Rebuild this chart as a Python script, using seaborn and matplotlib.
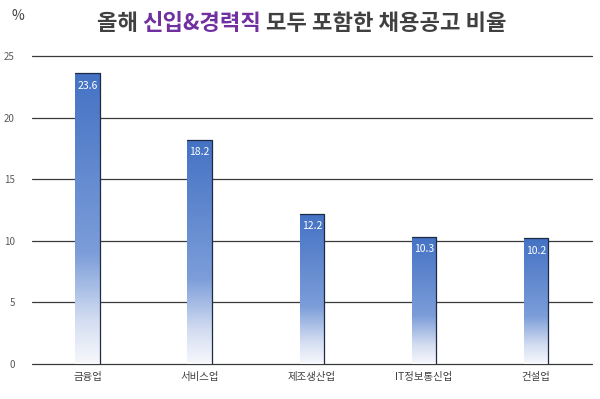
# Import libraries
import numpy as np
import pandas as pd
import matplotlib
matplotlib.use('Agg')
import matplotlib.pyplot as plt
from matplotlib.colors import LinearSegmentedColormap
import seaborn as sns

# Data
industries = ['금융업', '서비스업', '제조생산업', 'IT정보통신업', '건설업']
ratios = [23.6, 18.2, 12.2, 10.3, 10.2]
y_ticks = [0, 5, 10, 15, 20, 25]

df = pd.DataFrame({'Industry': industries, 'Ratio': ratios})

# Theme and fonts
sns.set_theme(style='white')
plt.rcParams['font.family'] = ['Noto Sans CJK KR', 'DejaVu Sans']

fig = plt.figure(figsize=(6, 3.99), dpi=100)
ax = fig.add_axes([0.0525, 0.0877, 0.9345, 0.772])

# Bars (colour is replaced by a gradient below)
sns.barplot(data=df, x='Industry', y='Ratio', color='#4472C4', width=0.22,
            linewidth=0, ax=ax, zorder=3)

# Gradient fill: white at the bottom to blue at the top
cmap = LinearSegmentedColormap.from_list(
    'fade', [(0, '#F7F8FC'), (0.15, '#D3DDF1'), (0.38, '#7C9DD9'), (1.0, '#4472C4')])
grad = np.linspace(0, 1, 256).reshape(-1, 1)
for bar, val in zip(ax.patches, ratios):
    x0, w = bar.get_x(), bar.get_width()
    bar.set_facecolor('none')
    bar.set_edgecolor('none')
    im = ax.imshow(grad, cmap=cmap, origin='lower', aspect='auto',
                   extent=(x0, x0 + w, 0, val), zorder=3)
    im.set_clip_path(bar)
    # dark top and right edge
    ax.plot([x0, x0 + w, x0 + w], [val, val, 0], color='#1F2A44', lw=0.9, zorder=4)
    ax.text(x0 + w / 2, val - 0.6, f'{val}', ha='center', va='top',
            color='white', fontsize=7.5, zorder=5)

# Axes settings
ax.set_xlim(-0.5, len(industries) - 0.5)
ax.set_ylim(0, 25)
ax.set_yticks(y_ticks)
ax.set_yticklabels([str(t) for t in y_ticks], fontsize=7, color='#595959')
ax.tick_params(axis='x', labelsize=7.5, colors='#404040', pad=6, length=0)
ax.tick_params(axis='y', length=0, pad=12)
ax.set_xlabel('')
ax.set_ylabel('')
ax.yaxis.grid(True, color='#3A3A3A', lw=0.9, zorder=0)
for gl in ax.get_ygridlines():
    gl.set_clip_on(False)
ax.set_axisbelow(True)
for s in ax.spines.values():
    s.set_visible(False)

# Percent sign
fig.text(0.02, 0.96, '%', fontsize=10, color='#404040', ha='left', va='center')

# Two-colour title
parts = [('올해 ', '#404040'), ('신입&경력직', '#7030A0'), (' 모두 포함한 채용공고 비율', '#404040')]
fig.canvas.draw()
renderer = fig.canvas.get_renderer()
texts = []
for s, c in parts:
    t = fig.text(0, 0.94, s, fontsize=16, fontweight='bold', color=c, ha='left', va='center')
    texts.append(t)
widths = [t.get_window_extent(renderer).width / fig.bbox.width for t in texts]
x = 0.503 - sum(widths) / 2
for t, w in zip(texts, widths):
    t.set_x(x)
    x += w

plt.savefig('out.png', dpi=100)
